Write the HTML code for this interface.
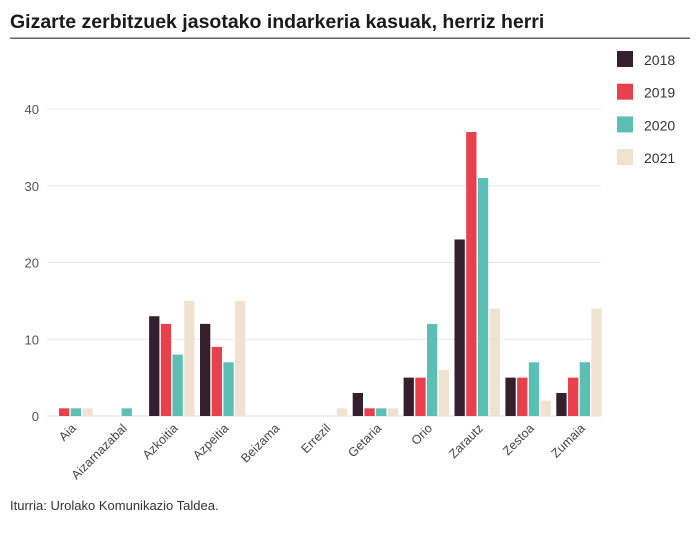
<!DOCTYPE html>
<html><head><meta charset="utf-8"><style>
body{margin:0;background:#fff;font-family:"Liberation Sans",sans-serif}
</style></head><body>
<svg width="700" height="538" xmlns="http://www.w3.org/2000/svg" font-family="Liberation Sans, sans-serif">
<text x="10" y="28" font-size="19.5" font-weight="bold" fill="#1a1a1a">Gizarte zerbitzuek jasotako indarkeria kasuak, herriz herri</text>
<rect x="10" y="37.5" width="680" height="1.5" fill="#666"/>
<g id="grid"></g><g id="bars"></g><g id="xlabels"></g><g id="legend"></g>
<text x="10" y="510" font-size="13" fill="#333">Iturria: Urolako Komunikazio Taldea.</text>
</svg>
<script>
const categories=["Aia","Aizarnazabal","Azkoitia","Azpeitia","Beizama","Errezil","Getaria","Orio","Zarautz","Zestoa","Zumaia"];
const seriesNames=["2018","2019","2020","2021"];
const s2018=[0,0,13,12,0,0,3,5,23,5,3];
const s2019=[1,0,12,9,0,0,1,5,37,5,5];
const s2020=[1,1,8,7,0,0,1,12,31,7,7];
const s2021=[1,0,15,15,0,1,1,6,14,2,14];
const yTicks=[0,10,20,30,40];
const colors=["#33202c","#e8404c","#5bbfb3","#efe2d1"];
const series=[s2018,s2019,s2020,s2021];
const NS="http://www.w3.org/2000/svg";
const x0=47.3,band=50.9,barW=10.3,step=11.7;
const y0=416,yPer=7.675;
function y(v){return y0-v*yPer;}
function xb(i,j){return x0+i*band+j*step;}
function mk(t,a,p){const e=document.createElementNS(NS,t);for(const k in a)e.setAttribute(k,a[k]);p.appendChild(e);return e;}
const grid=document.getElementById('grid');
yTicks.forEach(v=>{
 const l=mk('line',{x1:47,x2:601,y1:y(v),y2:y(v),stroke:v===0?'#ddd':'#e8e8e8','stroke-width':1},grid);
 
 
 const t=mk('text',{x:39,y:y(v)+5,'text-anchor':'end','font-size':13,fill:'#555'},grid);
 t.textContent=v;
 
 
});
const bars=document.getElementById('bars');
categories.forEach((c,i)=>{
 series.forEach((s,j)=>{
  if(s[i]<=0)return;
  const r=mk('rect',{x:xb(i,j),y:y(s[i]),width:barW,height:s[i]*yPer,fill:colors[j]},bars);
  
  
 });
 const cx=x0+i*band+band/2+4;
 const t=mk('text',{x:cx,y:429,'text-anchor':'end','font-size':12.5,fill:'#444',transform:'rotate(-45 '+cx+' 429)'},document.getElementById('xlabels'));
 t.textContent=c;
 
 
});
const lg=document.getElementById('legend');
seriesNames.forEach((n,j)=>{
 const yy=51+j*32.7;
 const g=mk('g',{},lg);
 
 
 mk('rect',{x:617,y:yy,width:16,height:16,fill:colors[j]},g);
 const t=mk('text',{x:644,y:yy+14,'font-size':14,fill:'#333'},g);
 t.textContent=n;
});
</script>
</body></html>
